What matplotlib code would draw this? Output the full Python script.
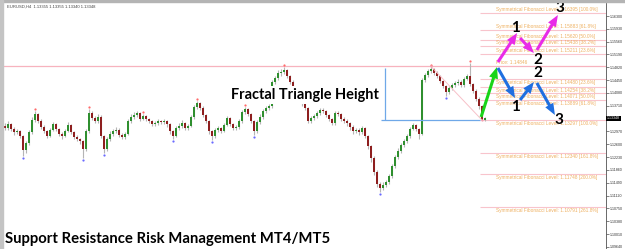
import numpy as np
import matplotlib
matplotlib.use('Agg')
import matplotlib.pyplot as plt
from matplotlib.patches import Rectangle

# ---- datos EURUSD H4 ----
primer_open = 1.1312
closes = [1.1307, 1.1318, 1.1304, 1.1295, 1.1298, 1.1284, 1.1243, 1.1264, 1.1295, 1.1330,
          1.1347, 1.1327, 1.1310, 1.1298, 1.1284, 1.1301, 1.1318, 1.1304, 1.1290, 1.1284,
          1.1298, 1.1316, 1.1295, 1.1281, 1.1275, 1.1269, 1.1246, 1.1298, 1.1350, 1.1336,
          1.1327, 1.1339, 1.1284, 1.1246, 1.1275, 1.1290, 1.1298, 1.1301, 1.1287, 1.1281,
          1.1290, 1.1327, 1.1339, 1.1344, 1.1350, 1.1333, 1.1342, 1.1333, 1.1327, 1.1318,
          1.1321, 1.1327, 1.1324, 1.1327, 1.1318, 1.1298, 1.1284, 1.1307, 1.1313, 1.1321,
          1.1307, 1.1313, 1.1339, 1.1367, 1.1379, 1.1365, 1.1344, 1.1327, 1.1298, 1.1284,
          1.1301, 1.1307, 1.1298, 1.1316, 1.1336, 1.1318, 1.1307, 1.1310, 1.1327, 1.1353,
          1.1362, 1.1347, 1.1327, 1.1298, 1.1324, 1.1339, 1.1356, 1.1365, 1.1370, 1.1440,
          1.1451, 1.1466, 1.1468, 1.1474, 1.1457, 1.1440, 1.1419, 1.1399, 1.1385, 1.1376,
          1.1365, 1.1327, 1.1336, 1.1342, 1.1350, 1.1359, 1.1356, 1.1344, 1.1333, 1.1321,
          1.1350, 1.1347, 1.1333, 1.1327, 1.1321, 1.1310, 1.1298, 1.1301, 1.1295, 1.1307,
          1.1284, 1.1255, 1.1220, 1.1180, 1.1145, 1.1134, 1.1143, 1.1151, 1.1169, 1.1197,
          1.1223, 1.1241, 1.1258, 1.1269, 1.1284, 1.1304, 1.1316, 1.1304, 1.1290, 1.1445,
          1.1460, 1.1471, 1.1477, 1.1466, 1.1457, 1.1442, 1.1428, 1.1411, 1.1422, 1.1431,
          1.1437, 1.1440, 1.1431, 1.1448, 1.1457, 1.1434, 1.1414, 1.1391, 1.1370, 1.1330,
          1.13348]
highs = [1.1320, 1.1326, 1.1322, 1.1309, 1.1305, 1.1302, 1.1288, 1.1270, 1.1300, 1.1338,
         1.1356, 1.1350, 1.1332, 1.1315, 1.1302, 1.1306, 1.1325, 1.1321, 1.1308, 1.1295,
         1.1303, 1.1323, 1.1319, 1.1299, 1.1287, 1.1279, 1.1273, 1.1305, 1.1362, 1.1355,
         1.1341, 1.1346, 1.1343, 1.1288, 1.1281, 1.1297, 1.1305, 1.1310, 1.1306, 1.1292,
         1.1296, 1.1333, 1.1346, 1.1352, 1.1357, 1.1354, 1.1347, 1.1345, 1.1337, 1.1330,
         1.1327, 1.1333, 1.1331, 1.1334, 1.1330, 1.1322, 1.1302, 1.1312, 1.1320, 1.1330,
         1.1325, 1.1319, 1.1345, 1.1374, 1.1385, 1.1382, 1.1369, 1.1348, 1.1331, 1.1302,
         1.1307, 1.1313, 1.1311, 1.1322, 1.1342, 1.1339, 1.1322, 1.1316, 1.1333, 1.1359,
         1.1367, 1.1365, 1.1351, 1.1331, 1.1330, 1.1346, 1.1362, 1.1371, 1.1376, 1.1446,
         1.1458, 1.1473, 1.1476, 1.1483, 1.1478, 1.1461, 1.1444, 1.1423, 1.1404, 1.1390,
         1.1380, 1.1368, 1.1341, 1.1348, 1.1356, 1.1366, 1.1364, 1.1360, 1.1348, 1.1337,
         1.1356, 1.1355, 1.1351, 1.1338, 1.1332, 1.1325, 1.1315, 1.1308, 1.1306, 1.1313,
         1.1311, 1.1288, 1.1259, 1.1225, 1.1186, 1.1150, 1.1152, 1.1158, 1.1175, 1.1203,
         1.1229, 1.1248, 1.1265, 1.1276, 1.1291, 1.1311, 1.1322, 1.1319, 1.1308, 1.1452,
         1.1467, 1.1478, 1.14846, 1.1481, 1.1470, 1.1461, 1.1446, 1.1432, 1.1428, 1.1437,
         1.1443, 1.1447, 1.1444, 1.1454, 1.1463, 1.1494, 1.1438, 1.1418, 1.1395, 1.1374,
         1.1338]
lows = [1.1300, 1.1302, 1.1299, 1.1288, 1.1290, 1.1278, 1.1226, 1.1236, 1.1258, 1.1290,
        1.1325, 1.1320, 1.1303, 1.1292, 1.1278, 1.1280, 1.1297, 1.1299, 1.1285, 1.1276,
        1.1280, 1.1294, 1.1289, 1.1275, 1.1268, 1.1262, 1.1220, 1.1240, 1.1292, 1.1330,
        1.1320, 1.1322, 1.1278, 1.1235, 1.1240, 1.1270, 1.1285, 1.1292, 1.1282, 1.1274,
        1.1276, 1.1286, 1.1322, 1.1334, 1.1340, 1.1328, 1.1329, 1.1327, 1.1321, 1.1312,
        1.1313, 1.1316, 1.1318, 1.1319, 1.1310, 1.1290, 1.1275, 1.1280, 1.1302, 1.1308,
        1.1300, 1.1302, 1.1309, 1.1334, 1.1362, 1.1360, 1.1338, 1.1321, 1.1291, 1.1272,
        1.1279, 1.1296, 1.1292, 1.1294, 1.1312, 1.1312, 1.1300, 1.1302, 1.1305, 1.1322,
        1.1348, 1.1341, 1.1320, 1.1287, 1.1293, 1.1319, 1.1334, 1.1350, 1.1358, 1.1365,
        1.1435, 1.1446, 1.1458, 1.1462, 1.1450, 1.1433, 1.1413, 1.1393, 1.1379, 1.1370,
        1.1360, 1.1320, 1.1322, 1.1331, 1.1337, 1.1345, 1.1350, 1.1338, 1.1327, 1.1315,
        1.1317, 1.1341, 1.1327, 1.1320, 1.1314, 1.1302, 1.1290, 1.1292, 1.1287, 1.1290,
        1.1277, 1.1246, 1.1210, 1.1170, 1.1136, 1.1122, 1.1128, 1.1136, 1.1146, 1.1164,
        1.1192, 1.1217, 1.1236, 1.1253, 1.1264, 1.1279, 1.1300, 1.1298, 1.1276, 1.1286,
        1.1440, 1.1455, 1.1466, 1.1460, 1.1450, 1.1436, 1.1421, 1.1399, 1.1406, 1.1417,
        1.1426, 1.1432, 1.1425, 1.1426, 1.1444, 1.1428, 1.1407, 1.1384, 1.1362, 1.13297,
        1.1326]

fractal_alto = [10, 28, 46, 64, 80, 93, 142, 155]
fractal_bajo = [6, 26, 33, 56, 69, 83, 125, 147]

# triangulo fractal (vertice alto, vertice bajo)
tri_idx = [142, 159]
tri_precio = [1.14846, 1.13297]

# niveles fibonacci simetricos
fib_arriba = [1.16395, 1.15883, 1.15620, 1.15438, 1.15211]
fib_arriba_pct = ['100.0%', '61.8%', '50.0%', '38.2%', '23.6%']
fib_abajo = [1.14480, 1.14254, 1.14071, 1.13889, 1.13297, 1.12340, 1.11748, 1.10791]
fib_abajo_pct = ['23.6%', '38.2%', '50.0%', '61.8%', '100.0%', '161.8%', '200.0%', '261.8%']

# eje de precios (derecha)
ticks_precio = [1.16300, 1.15930, 1.15560, 1.15190, 1.14820, 1.14450, 1.14080, 1.13710,
                1.12970, 1.12600, 1.12230, 1.11860, 1.11490, 1.11120, 1.10750,
                1.10380, 1.10010, 1.09640]
precio_actual = 1.13348

# flechas de escenario: (indice, precio) cola -> punta
flechas = [((158.7, 1.13387), (164.0, 1.14829), '#19d419'),
           ((164.3, 1.14973), (170.7, 1.15809), '#e82be8'),
           ((171.7, 1.15665), (176.3, 1.15232), '#e82be8'),
           ((177.3, 1.15319), (184.3, 1.16328), '#e82be8'),
           ((164.3, 1.14800), (170.0, 1.13934), '#1f6fe0'),
           ((171.7, 1.13877), (176.3, 1.14396), '#1f6fe0'),
           ((177.3, 1.14367), (183.3, 1.13444), '#1f6fe0')]
numeros = [('1', 170.3, 1.15953), ('2', 177.7, 1.15031), ('3', 185.0, 1.16530),
           ('2', 177.7, 1.14655), ('1', 170.3, 1.13675), ('3', 184.7, 1.13300)]

# ---- figura ----
fig = plt.figure(figsize=(6.25, 2.49), dpi=100, facecolor='white')
ax = fig.add_axes([3/625, 0, 603/625, 246/249])
ax.set_xlim(-0.667, 200.33)
ax.set_ylim(1.09579, 1.16675)

c = np.array(closes)
o = np.array([primer_open] + closes[:-1])
x = np.arange(len(c))
ax.vlines(x, lows, highs, color='#b5b5b5', lw=0.8, zorder=2)
colores = np.where(c >= o, '#2f8f2f', '#8e1f1f')
alto_cuerpo = np.maximum(np.abs(c - o), 0.00006)
ax.bar(x, alto_cuerpo, bottom=np.minimum(o, c), width=0.62, color=colores, lw=0, zorder=3)

ax.plot(fractal_alto, np.array(highs)[fractal_alto] + 0.0005, 'o', ms=1.6,
        color='#ff6a6a', mec='none', zorder=4)
ax.plot(fractal_bajo, np.array(lows)[fractal_bajo] - 0.0005, 'o', ms=1.6,
        color='#6a6aff', mec='none', zorder=4)

# triangulo y altura
ax.axhline(tri_precio[0], color='#f7b3be', lw=0.9, zorder=1)
ax.plot(tri_idx, tri_precio, color='#f7c0c8', lw=0.7, zorder=4)
ax.plot(tri_idx, tri_precio, 'o', ms=1.6, color='#f5a0b0', mec='none', zorder=4)
ax.hlines(tri_precio[1], 125.3, 158.3, color='#6fa8e8', lw=0.9, zorder=4)
ax.vlines(126.7, tri_precio[1], tri_precio[0] - 0.0004, color='#6fa8e8', lw=0.9, zorder=4)

# niveles fib
x_fib = 158.4
x_txt = 163.7
naranja = '#eeb060'
for nivel, pct in zip(fib_arriba, fib_arriba_pct):
    ax.hlines(nivel, x_fib, 200.33, color='#f8c4cc', lw=0.8, zorder=1)
    ax.text(x_txt, nivel + 0.0003, 'Symmetrical Fibonacci Level: %.5f [%s]' % (nivel, pct),
            fontsize=3.4, family='Liberation Sans', color=naranja, va='bottom', ha='left')
for nivel, pct in zip(fib_abajo, fib_abajo_pct):
    ax.hlines(nivel, x_fib, 200.33, color='#f8c4cc', lw=0.8, zorder=1)
    ax.text(x_txt, nivel - 0.0003, 'Symmetrical Fibonacci Level: %.5f [%s]' % (nivel, pct),
            fontsize=3.4, family='Liberation Sans', color=naranja, va='top', ha='left')
ax.text(x_txt, tri_precio[0] + 0.0003, 'Price: %.5f' % tri_precio[0], fontsize=3.4,
        family='Liberation Sans', color=naranja, va='bottom', ha='left')

for cola, punta, col in flechas:
    ax.annotate('', xy=punta, xytext=cola, zorder=6,
                arrowprops=dict(arrowstyle='simple,head_length=0.75,head_width=0.6,tail_width=0.2',
                                color=col, mutation_scale=11, shrinkA=0, shrinkB=0, lw=0))
for txt, xi, pr in numeros:
    ax.text(xi, pr, txt, fontsize=11, fontweight='bold', family='Lato', color='black',
            ha='center', va='center', zorder=7)

# ejes
for lado in ['left', 'top', 'bottom']:
    ax.spines[lado].set_visible(False)
ax.spines['right'].set_color('#505050')
ax.spines['right'].set_linewidth(0.6)
ax.set_xticks([])
ax.yaxis.tick_right()
ax.set_yticks(ticks_precio)
ax.set_yticklabels(['%.5f' % t for t in ticks_precio])
ax.tick_params(axis='y', length=2, width=0.5, pad=1, labelsize=2.6, labelcolor='#303030',
               color='#505050')
for lab in ax.get_yticklabels():
    lab.set_family('Liberation Sans')
ax.text(1.002, precio_actual, '%.5f' % precio_actual, transform=ax.get_yaxis_transform(),
        fontsize=2.6, family='Liberation Sans', color='white', va='center', ha='left',
        clip_on=False, bbox=dict(boxstyle='square,pad=0.2', fc='black', ec='none'))

# textos grandes
t1 = ax.text(100, 1.14021, 'Fractal Triangle Height', fontsize=10, fontweight='bold',
             family='Lato', ha='center', va='center', zorder=5,
             bbox=dict(boxstyle='square,pad=0.15', fc='white', ec='none'))
t2 = fig.text(5/625, 6/249, 'Support Resistance Risk Management MT4/MT5', fontsize=12,
              fontweight='bold', family='Lato', ha='left', va='baseline')
fig.text(7/625, 1 - 7/249, 'EURUSD,H4  1.13355 1.13355 1.13340 1.13348', fontsize=3,
         family='Liberation Sans', color='#404040', va='center')

rend = fig.canvas.get_renderer()
for t, ancho in [(t1, 148), (t2, 322)]:
    w = t.get_window_extent(rend).width
    t.set_fontsize(t.get_fontsize() * ancho / w)

# marco gris de la ventana
fig.patches.append(Rectangle((0, 1 - 2/249), 1, 2/249, transform=fig.transFigure,
                             color='#b4b4b4', zorder=10))
fig.patches.append(Rectangle((0, 0), 3/625, 1, transform=fig.transFigure,
                             color='#c4c4c4', zorder=10))

fig.savefig('out.png', dpi=100)
